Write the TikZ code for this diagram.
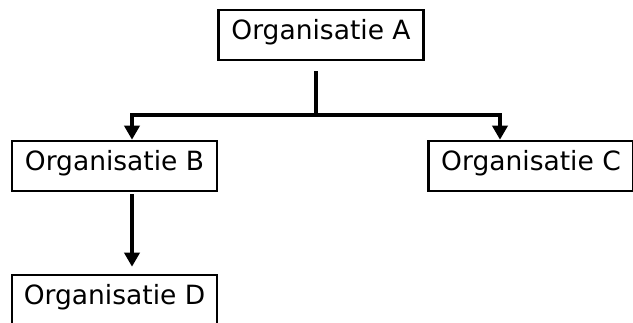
\documentclass[tikz,border=0pt]{standalone}
\usepackage{fontspec}
\setmainfont{DejaVu Sans}
\usetikzlibrary{arrows.meta}

\begin{document}
\begin{tikzpicture}[
  x=1pt, y=-1pt,
  box/.style={draw, line width=2.6pt, minimum width=205pt, inner sep=0pt,
    text height=29pt, text depth=21pt, font=\fontsize{26.5}{30}\selectfont},
  line/.style={line width=4pt},
  arrow/.style={line width=4pt, -{Triangle[width=15pt,length=14pt]}},
]
  \useasboundingbox (0,0) rectangle (633,322);
  \node[box] (orgA) at (321,35) {Organisatie A};
  \node[box] (orgB) at (114.5,166) {Organisatie B};
  \node[box] (orgC) at (531,166) {Organisatie C};
  \node[box] (orgD) at (114.5,300) {Organisatie D};
  \coordinate (split) at (316,115);

  \draw[line] ([shift={(-5pt,-10pt)}]orgA.south) -- (split);
  \draw[arrow] (split) -| ([xshift=17.5pt]orgB.north);
  \draw[arrow] (split) -| ([xshift=-31pt]orgC.north);
  \draw[arrow] ([shift={(17.5pt,-2pt)}]orgB.south) -- ([shift={(17.5pt,7pt)}]orgD.north);
\end{tikzpicture}
\end{document}
